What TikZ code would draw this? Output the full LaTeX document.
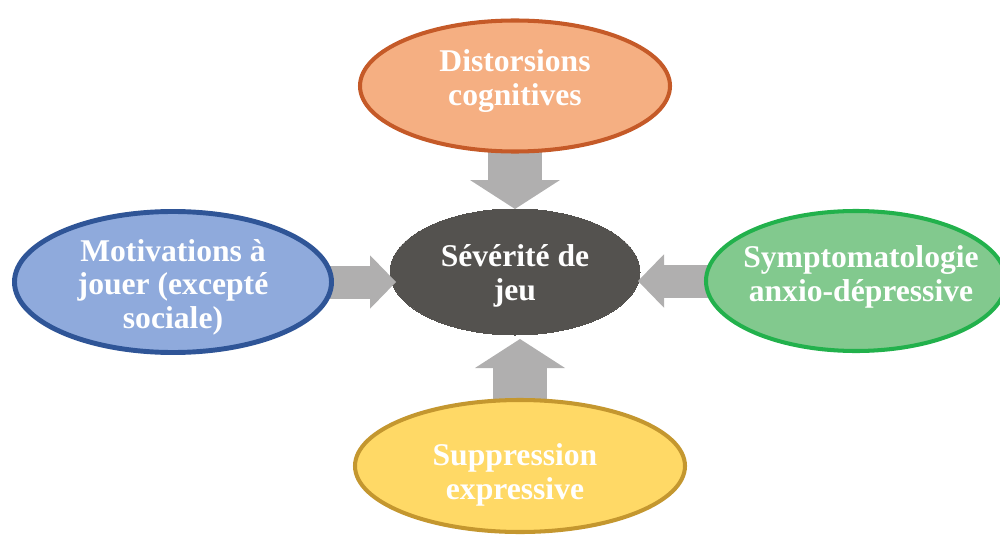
\documentclass[tikz,border=0pt]{standalone}
\usepackage{fontspec}
\setmainfont{Liberation Serif}
\usepackage{xcolor}
\usepackage{tikz}
\usetikzlibrary{shapes,arrows.meta,calc}
\definecolor{sevgrey}{HTML}{54524F}
\definecolor{pushgrey}{HTML}{B0AFAF}
\definecolor{distfill}{HTML}{F5AF82}
\definecolor{distline}{HTML}{C55A28}
\definecolor{motfill}{HTML}{8FAADC}
\definecolor{motline}{HTML}{2F5597}
\definecolor{sympfill}{HTML}{82C98E}
\definecolor{sympline}{HTML}{22B14C}
\definecolor{suppfill}{HTML}{FFD966}
\definecolor{suppline}{HTML}{C4972F}
\pgfdeclarelayer{back}
\pgfdeclarelayer{mid}
\pgfsetlayers{back,mid,main}
\tikzset{%
  bubble/.style   = {draw, ellipse, line width=2.3pt, inner sep=0pt},
  caption/.style  = {text=white, align=center,
    font=\fontsize{18}{19}\selectfont\bfseries}, % white label
  vpush/.style    = {draw=pushgrey, line width=1.07cm,
    -{Triangle[width=1.8cm, length=0.58cm, line width=0pt]}}, % up/down
  hpush/.style    = {draw=pushgrey, line width=0.66cm,
    -{Triangle[width=1.07cm, length=0.52cm, line width=0pt]}} % left/right
}

\begin{document}
\begin{tikzpicture}
        \useasboundingbox (0,0) rectangle (20,10.7);
        \clip (0,0) rectangle (20,10.7);

        \begin{pgfonlayer}{back}
        \node [bubble, draw=sevgrey, fill=sevgrey, line width=0pt,
            minimum width=5cm, minimum height=2.52cm,
            label={[caption, name=sev-txt, yshift=-0.08cm]center:S\'ev\'erit\'e de\\jeu}]
            (sev) at (10.30,5.26) {};
        \end{pgfonlayer}

        \node [bubble, draw=distline, fill=distfill,
            minimum width=6.2cm, minimum height=2.62cm,
            label={[caption, name=dist-txt, yshift=0.1cm]center:Distorsions\\cognitives}]
            (dist) at (10.30,8.98) {};
        \node [bubble, draw=motline, fill=motfill, line width=2.8pt,
            minimum width=6.34cm, minimum height=2.82cm,
            label={[caption, name=mot-txt, yshift=-0.1cm]center:Motivations \`a\\jouer (except\'e\\sociale)}]
            (mot) at (3.46,5.06) {};
        \node [bubble, draw=sympline, fill=sympfill,
            minimum width=6.0cm, minimum height=2.8cm,
            label={[caption, name=symp-txt, xshift=0.1cm, yshift=0.08cm]center:Symptomatologie\\anxio-d\'epressive}]
            (symp) at (17.12,5.08) {};
        \node [bubble, draw=suppline, fill=suppfill,
            minimum width=6.6cm, minimum height=2.64cm,
            label={[caption, name=supp-txt, xshift=-0.1cm, yshift=-0.18cm]center:Suppression\\expressive}]
            (supp) at (10.40,1.38) {};

        % block arrows towards the centre
        \begin{pgfonlayer}{mid}
        \draw[vpush] (dist.center) -- (sev.north);
        \draw[vpush] (supp.center) -- ($(supp |- sev.south)+(0,-0.08)$);
        \draw[hpush] (mot.center) -- ($(mot -| sev.west)+(0.12,0)$);
        \draw[hpush] (symp.center) -- ($(symp -| sev.east)+(-0.04,0)$);
        \end{pgfonlayer}
\end{tikzpicture}
\end{document}
